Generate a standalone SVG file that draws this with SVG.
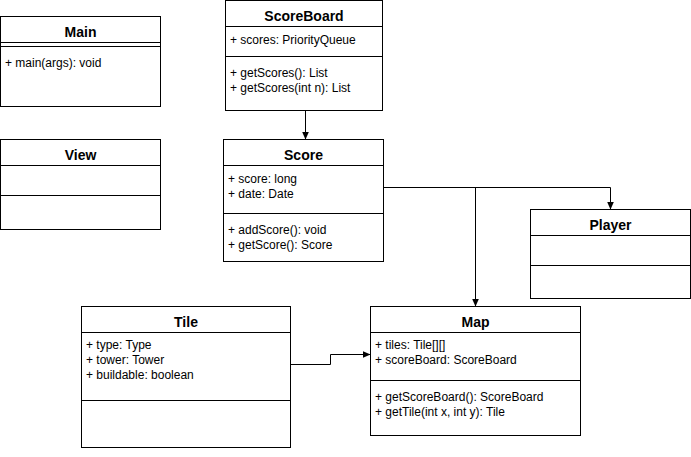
<svg xmlns="http://www.w3.org/2000/svg" width="691" height="457" viewBox="0 0 691 457">
<style>
.box{fill:#fff;stroke:#000;stroke-width:1}
.sep{stroke:#000;stroke-width:1;fill:none}
.title{font-family:"Liberation Sans",Arial,sans-serif;font-size:14px;font-weight:bold;text-anchor:middle;fill:#000}
.txt{font-family:"Liberation Sans",Arial,sans-serif;font-size:12px;fill:#000}
.conn{stroke:#000;stroke-width:1;fill:none;marker-end:url(#arr)}
</style>
<defs>
<marker id="arr" markerUnits="userSpaceOnUse" markerWidth="8" markerHeight="7" refX="8" refY="3.5" orient="auto">
<path d="M0,0 L8,3.5 L0,7 Z" fill="#000"/>
</marker>
</defs>
<rect width="691" height="457" fill="#fff"/>
<g id="connectors">
<path class="conn" d="M305.5,110.5 V139.5"/>
<path class="conn" d="M383.5,187.5 H610.5 V209.5"/>
<path class="conn" d="M475.5,187.5 V306.5"/>
<path class="conn" d="M290.5,364.5 H330.5 V354.5 H370.5"/>
</g>
<g id="Main">
<rect class="box" x="0.5" y="16.5" width="160" height="90"/>
<path class="sep" d="M0.5,42.5 H160.5 M0.5,46.5 H160.5"/>
<text class="title" x="80.5" y="37">Main</text>
<text class="txt" x="5" y="67">+ main(args): void</text>
</g>
<g id="View">
<rect class="box" x="0.5" y="139.5" width="160" height="90"/>
<path class="sep" d="M0.5,165.5 H160.5 M0.5,195.5 H160.5"/>
<text class="title" x="80.5" y="160">View</text>
</g>
<g id="ScoreBoard">
<rect class="box" x="225.5" y="0.5" width="157" height="110"/>
<path class="sep" d="M225.5,26.5 H382.5 M225.5,56.5 H382.5"/>
<text class="title" x="304" y="21">ScoreBoard</text>
<text class="txt" x="230" y="44">+ scores: PriorityQueue</text>
<text class="txt" x="230" y="77">+ getScores(): List</text>
<text class="txt" x="230" y="92">+ getScores(int n): List</text>
</g>
<g id="Score">
<rect class="box" x="223.5" y="139.5" width="160" height="122"/>
<path class="sep" d="M223.5,165.5 H383.5 M223.5,213.5 H383.5"/>
<text class="title" x="303.5" y="160">Score</text>
<text class="txt" x="228" y="183">+ score: long</text>
<text class="txt" x="228" y="198">+ date: Date</text>
<text class="txt" x="228" y="234">+ addScore(): void</text>
<text class="txt" x="228" y="249">+ getScore(): Score</text>
</g>
<g id="Player">
<rect class="box" x="530.5" y="209.5" width="160" height="89"/>
<path class="sep" d="M530.5,235.5 H690.5 M530.5,265.5 H690.5"/>
<text class="title" x="610.5" y="230">Player</text>
</g>
<g id="Tile">
<rect class="box" x="81.5" y="306.5" width="209" height="141"/>
<path class="sep" d="M81.5,332.5 H290.5 M81.5,400.5 H290.5"/>
<text class="title" x="186" y="327">Tile</text>
<text class="txt" x="86" y="349">+ type: Type</text>
<text class="txt" x="86" y="364">+ tower: Tower</text>
<text class="txt" x="86" y="379">+ buildable: boolean</text>
</g>
<g id="Map">
<rect class="box" x="370.5" y="306.5" width="210" height="129"/>
<path class="sep" d="M370.5,332.5 H580.5 M370.5,380.5 H580.5"/>
<text class="title" x="475.5" y="327">Map</text>
<text class="txt" x="375" y="349">+ tiles: Tile[][]</text>
<text class="txt" x="375" y="364">+ scoreBoard: ScoreBoard</text>
<text class="txt" x="375" y="401">+ getScoreBoard(): ScoreBoard</text>
<text class="txt" x="375" y="416">+ getTile(int x, int y): Tile</text>
</g>
</svg>
